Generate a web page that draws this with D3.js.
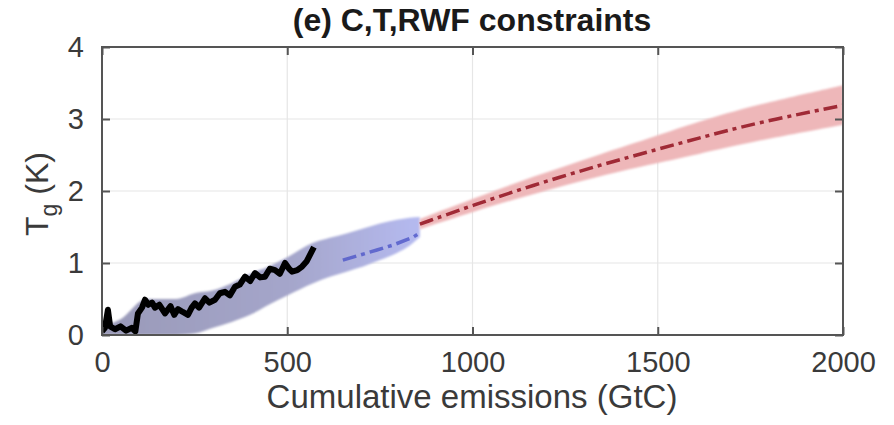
<!DOCTYPE html>
<html><head><meta charset="utf-8">
<script src="https://cdn.jsdelivr.net/npm/d3@7"></script>
<style>
body{margin:0;background:#fff;}
svg{display:block;font-family:"Liberation Sans",Arial,Helvetica,sans-serif;}
</style>
</head><body>
<svg id="chart" width="894" height="425"></svg>
<script>
// ---- data ----
const xTicks = [0, 500, 1000, 1500, 2000];
const yTicks = [0, 1, 2, 3, 4];
const titleText = "(e) C,T,RWF constraints";
const xLabel = "Cumulative emissions (GtC)";

// observed record (black)
const obsX = [0, 8, 16, 22, 35, 50, 65, 80, 90, 97, 108, 116, 125, 135, 143, 155, 170, 185, 195, 205, 218, 232, 242, 251, 262, 278, 290, 305, 318, 332, 345, 359, 372, 386, 400, 413, 427, 440, 453, 467, 480, 494, 505, 513, 527, 540, 552, 562, 572];
const obsY = [0.05, 0.10, 0.35, 0.12, 0.08, 0.12, 0.06, 0.10, 0.05, 0.30, 0.38, 0.49, 0.42, 0.45, 0.38, 0.42, 0.30, 0.40, 0.28, 0.36, 0.32, 0.28, 0.38, 0.44, 0.38, 0.51, 0.45, 0.49, 0.58, 0.60, 0.55, 0.67, 0.70, 0.81, 0.75, 0.86, 0.80, 0.81, 0.92, 0.90, 0.85, 1.00, 0.92, 0.88, 0.90, 0.95, 1.02, 1.12, 1.22];

// historical ensemble range (blue)
const blueX  = [0, 50, 120, 200, 250, 300, 350, 400, 450, 500, 570, 615, 660, 705, 750, 796, 830, 858];
const blueLo = [0, 0, 0, 0, 0.02, 0.10, 0.18, 0.28, 0.42, 0.55, 0.72, 0.81, 0.88, 0.95, 1.04, 1.14, 1.24, 1.36];
const blueHi = [0.12, 0.22, 0.50, 0.50, 0.58, 0.62, 0.72, 0.85, 0.95, 1.08, 1.28, 1.35, 1.41, 1.48, 1.55, 1.60, 1.63, 1.64];
const blueMeanX = [650, 696, 742, 786, 840, 858];
const blueMeanY = [1.04, 1.11, 1.18, 1.25, 1.36, 1.42];

// future projection range (red)
const redX    = [858, 1000, 1163, 1344, 1500, 1600, 1768, 2000];
const redMean = [1.54, 1.80, 2.08, 2.36, 2.58, 2.72, 2.95, 3.19];
const redLo   = [1.47, 1.71, 1.96, 2.21, 2.39, 2.50, 2.70, 2.92];
const redHi   = [1.61, 1.89, 2.20, 2.51, 2.77, 2.95, 3.20, 3.47];

// ---- layout ----
const svg = d3.select("#chart");
const L = 102, R = 843, T = 47, B = 335;
const x = d3.scaleLinear().domain([0, 2000]).range([L, R]);
const y = d3.scaleLinear().domain([0, 4]).range([B, T]);

const defs = svg.append("defs");
const grad = defs.append("linearGradient").attr("id", "blueGrad")
  .attr("gradientUnits", "userSpaceOnUse")
  .attr("x1", x(0)).attr("x2", x(858)).attr("y1", 0).attr("y2", 0);
grad.append("stop").attr("offset", "0%").attr("stop-color", "#9a9ab8");
grad.append("stop").attr("offset", "60%").attr("stop-color", "#a5a6cb");
grad.append("stop").attr("offset", "100%").attr("stop-color", "#b5baf0");
const blur = defs.append("filter").attr("id", "soft");
blur.append("feGaussianBlur").attr("stdDeviation", 1.2);
defs.append("clipPath").attr("id", "plotClip").append("rect")
  .attr("x", L).attr("y", T).attr("width", R - L).attr("height", B - T);

// grid
const grid = svg.append("g").attr("stroke", "#e6e6e6").attr("stroke-width", 1.2);
xTicks.slice(1, -1).forEach(v => grid.append("line").attr("x1", x(v)).attr("x2", x(v)).attr("y1", T).attr("y2", B));
yTicks.slice(1, -1).forEach(v => grid.append("line").attr("x1", L).attr("x2", R).attr("y1", y(v)).attr("y2", y(v)));

const plot = svg.append("g").attr("clip-path", "url(#plotClip)");

// blue band
const blueBand = blueX.map((v, i) => ({x: v, lo: blueLo[i], hi: blueHi[i]}));
plot.append("path").datum(blueBand)
  .attr("d", d3.area().x(d => x(d.x)).y0(d => y(d.lo)).y1(d => y(d.hi)).curve(d3.curveMonotoneX))
  .attr("fill", "url(#blueGrad)").attr("filter", "url(#soft)");

// red band
const redBand = redX.map((v, i) => ({x: v, lo: redLo[i], hi: redHi[i], m: redMean[i]}));
plot.append("path").datum(redBand)
  .attr("d", d3.area().x(d => x(d.x)).y0(d => y(d.lo)).y1(d => y(d.hi)).curve(d3.curveBasis))
  .attr("fill", "#eeb7b9").attr("filter", "url(#soft)");

// mean lines
plot.append("path").datum(blueMeanX.map((v, i) => [v, blueMeanY[i]]))
  .attr("d", d3.line().x(d => x(d[0])).y(d => y(d[1])))
  .attr("fill", "none").attr("stroke", "#4d56c8").attr("stroke-width", 3.5)
  .attr("stroke-dasharray", "14 5 4 5").attr("opacity", 0.8);
plot.append("path").datum(redBand)
  .attr("d", d3.line().x(d => x(d.x)).y(d => y(d.m)).curve(d3.curveBasis))
  .attr("fill", "none").attr("stroke", "#a02a36").attr("stroke-width", 3.5)
  .attr("stroke-dasharray", "14 5 4 5");

// observations
plot.append("path").datum(obsX.map((v, i) => [v, obsY[i]]))
  .attr("d", d3.line().x(d => x(d[0])).y(d => y(d[1])))
  .attr("fill", "none").attr("stroke", "#000").attr("stroke-width", 6)
  .attr("stroke-linejoin", "round");

// axes box + ticks
const axCol = "#555";
svg.append("rect").attr("x", L).attr("y", T).attr("width", R - L).attr("height", B - T)
  .attr("fill", "none").attr("stroke", axCol).attr("stroke-width", 2);
const fmt = d3.format("d");
const xAxis = d3.axisBottom(x).tickValues(xTicks).tickFormat(fmt).tickSizeInner(-8).tickSizeOuter(0).tickPadding(16);
const gx = svg.append("g").attr("transform", `translate(0,${B})`).call(xAxis);
const yAxis = d3.axisLeft(y).tickValues(yTicks).tickFormat(fmt).tickSizeInner(-8).tickSizeOuter(0).tickPadding(18);
const gy = svg.append("g").attr("transform", `translate(${L},0)`).call(yAxis);
const gxTop = svg.append("g").attr("transform", `translate(0,${T})`)
  .call(d3.axisTop(x).tickValues(xTicks).tickSizeInner(-8).tickSizeOuter(0).tickFormat(""));
const gyRight = svg.append("g").attr("transform", `translate(${R},0)`)
  .call(d3.axisRight(y).tickValues(yTicks).tickSizeInner(-8).tickSizeOuter(0).tickFormat(""));
[gx, gy, gxTop, gyRight].forEach(g => {
  g.select(".domain").remove();
  g.selectAll(".tick line").attr("stroke", axCol).attr("stroke-width", 2);
  g.selectAll("text").attr("fill", "#3a3a3a").attr("font-size", 29)
    .attr("font-family", "'Liberation Sans',Arial,sans-serif");
});
gx.selectAll("text").attr("dy", "0.71em");

// title
svg.append("text").attr("x", 472).attr("y", 31).attr("text-anchor", "middle")
  .attr("font-size", 32).attr("font-weight", "bold").attr("fill", "#1a1a1a")
  .text(titleText);

// x label
svg.append("text").attr("x", 472).attr("y", 408).attr("text-anchor", "middle")
  .attr("font-size", 33).attr("fill", "#3a3a3a").text(xLabel);

// y label
const yl = svg.append("text").attr("transform", "translate(48,194) rotate(-90)")
  .attr("text-anchor", "middle").attr("font-size", 32).attr("fill", "#3a3a3a");
yl.append("tspan").text("T");
yl.append("tspan").attr("font-size", 23).attr("dy", 9).text("g");
yl.append("tspan").attr("dy", -9).text(" (K)");
</script>
</body></html>
